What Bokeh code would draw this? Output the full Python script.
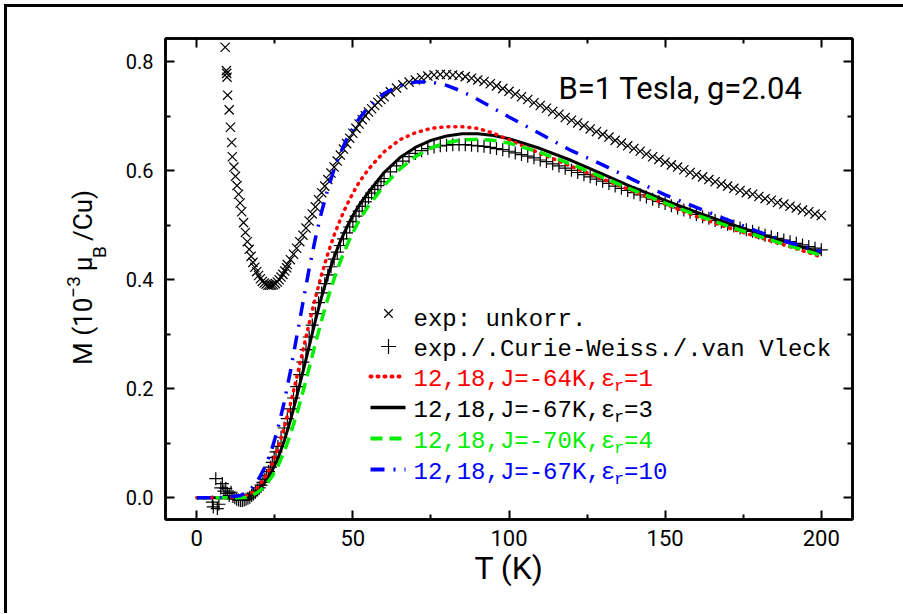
import math
from bokeh.plotting import figure
from bokeh.models import Range1d, LinearAxis, FixedTicker, Label, PrintfTickFormatter, Row
from bokeh.core.properties import value
from bokeh.embed import file_html
from bokeh.resources import INLINE

# ---------------- data ----------------
# experimental, uncorrected (x markers)
T_RAW = [9.1, 9.5, 9.6, 9.7, 9.9, 10.4, 10.8, 11.2, 11.4, 11.9, 12.4, 12.9, 13.4, 13.9, 14.4,
         15.0, 15.6, 16.2, 16.8, 17.4, 18.0, 18.6, 19.2, 19.8, 20.4, 21.0, 21.6, 22.2, 22.8, 23.4,
         24.0, 24.6, 25.2, 25.8, 26.4, 27.0, 27.6, 28.2, 28.8,
         29, 30, 31, 32, 33, 34, 35, 36, 37, 38, 39, 40, 41, 42, 43, 44, 45, 46, 47, 48, 49, 50,
         51, 52, 53, 54, 55, 56, 57, 58, 59, 60,
         62, 64, 66, 68, 70, 72, 74, 76, 78, 80, 82, 84, 86, 88, 90, 92, 94, 96, 98, 100,
         102, 104, 106, 108, 110, 112, 114, 116, 118, 120, 122, 124, 126, 128, 130, 132, 134, 136,
         138, 140, 142, 144, 146, 148, 150, 152, 154, 156, 158, 160, 162, 164, 166, 168, 170, 172,
         174, 176, 178, 180, 182, 184, 186, 188, 190, 192, 194, 196, 198, 200]
M_RAW = [0.827, 0.784, 0.779, 0.772, 0.739, 0.712, 0.680, 0.652, 0.626, 0.607, 0.590, 0.573, 0.557,
         0.541, 0.525, 0.505, 0.487, 0.470, 0.456, 0.443, 0.432, 0.423, 0.415, 0.408, 0.402, 0.397,
         0.394, 0.392, 0.390, 0.390, 0.390, 0.391, 0.393, 0.396, 0.400, 0.405, 0.410, 0.416, 0.422,
         0.428, 0.437, 0.447, 0.458, 0.470, 0.482, 0.495, 0.508, 0.521, 0.534, 0.547, 0.560, 0.572,
         0.584, 0.596, 0.607, 0.618, 0.629, 0.640, 0.650, 0.660, 0.669, 0.678, 0.686, 0.694, 0.701,
         0.708, 0.714, 0.720, 0.726, 0.731, 0.736,
         0.745, 0.752, 0.758, 0.763, 0.767, 0.771, 0.774, 0.776, 0.777, 0.777, 0.776, 0.775, 0.773,
         0.770, 0.767, 0.764, 0.760, 0.756, 0.751, 0.746, 0.741, 0.736, 0.731, 0.725, 0.720, 0.715,
         0.709, 0.704, 0.698, 0.693, 0.688, 0.683, 0.677, 0.672, 0.667, 0.662, 0.656, 0.651, 0.646,
         0.641, 0.636, 0.631, 0.626, 0.621, 0.616, 0.611, 0.607, 0.602, 0.597, 0.593, 0.589, 0.584,
         0.580, 0.576, 0.572, 0.568, 0.564, 0.560, 0.557, 0.553, 0.549, 0.546, 0.542, 0.539, 0.535,
         0.532, 0.528, 0.525, 0.521, 0.518]

# experimental, corrected for Curie-Weiss and van Vleck (+ markers)
T_COR = [5.0, 5.3, 6.1, 6.6, 7.1, 7.7, 8.2, 8.7, 9.3, 9.8, 10.4, 11.0, 11.6, 12.2, 12.8, 13.4, 14.0,
         14.6, 15.2, 15.8, 16.4, 17.0, 17.6, 18.2, 18.8, 19.4, 20.0, 20.6, 21.2, 21.8, 22.4, 23.0,
         23.6, 24.2, 24.8, 25.4, 26.0, 27, 28,
         29, 30, 31, 32, 33, 34, 35, 36, 37, 38, 39, 40, 41, 42, 43, 44, 45, 46, 47, 48, 49, 50,
         51, 52, 53, 54, 55, 56, 57, 58, 59, 60,
         62, 64, 66, 68, 70, 72, 74, 76, 78, 80, 82, 84, 86, 88, 90, 92, 94, 96, 98, 100,
         102, 104, 106, 108, 110, 112, 114, 116, 118, 120, 122, 124, 126, 128, 130, 132, 134, 136,
         138, 140, 142, 144, 146, 148, 150, 152, 154, 156, 158, 160, 162, 164, 166, 168, 170, 172,
         174, 176, 178, 180, 182, 184, 186, 188, 190, 192, 194, 196, 198, 200]
M_COR = [-0.008, -0.017, 0.035, -0.020, -0.012, 0.018, 0.026, 0.012, 0.017, 0.008, 0.004, 0.010,
         0.002, 0.000, -0.003, -0.004, -0.005, -0.005, -0.004, -0.003, -0.001, 0.001, 0.004, 0.007,
         0.010, 0.014, 0.018, 0.023, 0.028, 0.034, 0.041, 0.048, 0.056, 0.065, 0.074, 0.084, 0.094,
         0.111, 0.128,
         0.145, 0.163, 0.183, 0.204, 0.226, 0.249, 0.272, 0.295, 0.317, 0.338, 0.358, 0.376, 0.393,
         0.409, 0.424, 0.438, 0.451, 0.463, 0.475, 0.486, 0.497, 0.507, 0.517, 0.526, 0.535, 0.543,
         0.551, 0.559, 0.566, 0.573, 0.580, 0.586,
         0.598, 0.609, 0.618, 0.626, 0.632, 0.637, 0.641, 0.644, 0.646, 0.647, 0.648, 0.648, 0.648,
         0.647, 0.646, 0.645, 0.643, 0.641, 0.639, 0.636, 0.633, 0.630, 0.627, 0.624, 0.620, 0.617,
         0.613, 0.609, 0.605, 0.601, 0.597, 0.593, 0.589, 0.585, 0.581, 0.577, 0.572, 0.568, 0.564,
         0.560, 0.556, 0.552, 0.548, 0.544, 0.540, 0.536, 0.532, 0.528, 0.524, 0.520, 0.516, 0.513,
         0.509, 0.506, 0.502, 0.499, 0.495, 0.492, 0.489, 0.486, 0.482, 0.479, 0.476, 0.473, 0.470,
         0.467, 0.464, 0.461, 0.458, 0.455]

# model curves (12,18 cluster)
T_MOD = [0, 5, 10, 14, 16, 18, 20, 22, 24, 26, 28, 30, 32, 34, 36, 38, 40, 42, 44, 46, 48, 50, 52,
         55, 60, 65, 70, 75, 80, 85, 90, 95, 100, 110, 120, 130, 140, 150, 160, 170, 180, 190, 200]
M_J64_E1 = [0, 0, 0, 0.001, 0.004, 0.010, 0.022, 0.038, 0.060, 0.090, 0.128, 0.172, 0.220, 0.270,
            0.320, 0.367, 0.410, 0.448, 0.482, 0.511, 0.537, 0.559, 0.579, 0.603, 0.635, 0.657,
            0.670, 0.678, 0.681, 0.681, 0.678, 0.669, 0.657, 0.632, 0.608, 0.585, 0.562, 0.539,
            0.516, 0.496, 0.478, 0.461, 0.442]
M_J67_E3 = [0, 0, 0, 0, 0.002, 0.007, 0.016, 0.030, 0.048, 0.072, 0.104, 0.142, 0.185, 0.231,
            0.278, 0.325, 0.369, 0.408, 0.442, 0.471, 0.496, 0.518, 0.537, 0.561, 0.597, 0.624,
            0.643, 0.656, 0.664, 0.668, 0.668, 0.665, 0.659, 0.641, 0.619, 0.594, 0.569, 0.546,
            0.524, 0.504, 0.485, 0.467, 0.449]
M_J70_E4 = [0, 0, 0, 0, 0.001, 0.005, 0.012, 0.023, 0.038, 0.058, 0.084, 0.116, 0.153, 0.194,
            0.238, 0.283, 0.326, 0.366, 0.402, 0.434, 0.462, 0.487, 0.509, 0.536, 0.573, 0.603,
            0.626, 0.642, 0.652, 0.657, 0.658, 0.656, 0.651, 0.634, 0.612, 0.588, 0.564, 0.541,
            0.519, 0.499, 0.480, 0.462, 0.445]
M_J67_E10 = [0, 0, 0.001, 0.004, 0.010, 0.020, 0.036, 0.058, 0.088, 0.127, 0.175, 0.232, 0.295,
             0.358, 0.420, 0.476, 0.525, 0.567, 0.603, 0.633, 0.658, 0.678, 0.696, 0.717, 0.742,
             0.756, 0.763, 0.763, 0.757, 0.746, 0.731, 0.715, 0.699, 0.668, 0.637, 0.611, 0.583,
             0.556, 0.533, 0.510, 0.488, 0.468, 0.452]

X_TICKS = [0, 50, 100, 150, 200]
X_MINOR = [-25, 25, 75, 125, 175, 225]
Y_TICKS = [0.0, 0.2, 0.4, 0.6, 0.8]
Y_MINOR = [-0.1, 0.1, 0.3, 0.5, 0.7, 0.9]

TITLE = "B=1 Tesla, g=2.04"
X_LABEL = "T (K)"
Y_LABEL_PARTS = ["M (10", "−3", "μ", "B", "/Cu)"]
LEG_EXP = ["exp: unkorr.", "exp./.Curie-Weiss./.van Vleck"]
LEG_MODEL = [("12,18,J=-64K,ε", "r", "=1"), ("12,18,J=-67K,ε", "r", "=3"),
             ("12,18,J=-70K,ε", "r", "=4"), ("12,18,J=-67K,ε", "r", "=10")]

# ---------------- layout ----------------
X0, X1 = -10, 210
Y0, Y1 = -0.04, 0.843
ORG = 7                      # page offset of the canvases (margin 4 + border 3)
LW = 104                     # width of the strip holding the y label
H = 606
TOTAL_W = 896
FL, FT, FR, FB = 165, 38, 852, 519   # frame edges in page pixels
MAIN_W = TOTAL_W - LW
MB_L = FL - ORG - LW
MB_T = FT - ORG
MB_R = (ORG + TOTAL_W) - FR
MB_B = (ORG + H) - FB
FW = FR - FL
FH = FB - FT


def dx(px):
    return X0 + (px - FL) / FW * (X1 - X0)


def dy(py):
    return Y1 - (py - FT) / FH * (Y1 - Y0)


p = figure(width=MAIN_W, height=H, x_range=Range1d(X0, X1), y_range=Range1d(Y0, Y1),
           output_backend="svg", toolbar_location=None,
           x_axis_location=None, y_axis_location=None,
           min_border_left=MB_L, min_border_right=MB_R, min_border_top=MB_T,
           min_border_bottom=MB_B)
p.xgrid.visible = False
p.ygrid.visible = False
p.outline_line_color = "black"
p.outline_line_width = 2.5
p.outline_line_alpha = 1.0
p.background_fill_color = "white"
p.border_fill_color = "white"

ax_b = LinearAxis(ticker=FixedTicker(ticks=X_TICKS, minor_ticks=X_MINOR))
ax_t = LinearAxis(ticker=FixedTicker(ticks=X_TICKS, minor_ticks=X_MINOR))
ax_l = LinearAxis(ticker=FixedTicker(ticks=Y_TICKS, minor_ticks=Y_MINOR),
                  formatter=PrintfTickFormatter(format="%.1f"))
ax_r = LinearAxis(ticker=FixedTicker(ticks=Y_TICKS, minor_ticks=Y_MINOR))
p.add_layout(ax_b, "below")
p.add_layout(ax_l, "left")
p.add_layout(ax_t, "above")
p.add_layout(ax_r, "right")

for ax in [ax_b, ax_l, ax_t, ax_r]:
    ax.axis_line_color = "black"
    ax.axis_line_width = 2.5
    ax.major_tick_in = 9
    ax.major_tick_out = 0
    ax.minor_tick_in = 5
    ax.minor_tick_out = 0
    ax.major_tick_line_width = 2
    ax.minor_tick_line_width = 2
    ax.major_tick_line_color = "black"
    ax.minor_tick_line_color = "black"
    ax.major_label_text_font = "Roboto"
    ax.major_label_text_color = "black"

for ax in [ax_t, ax_r]:
    ax.major_label_text_color = None
    ax.major_label_text_font_size = "6px"
    ax.major_label_standoff = 2

ax_b.major_label_text_font_size = "22px"
ax_b.major_label_standoff = 10
ax_l.major_label_text_font_size = "20px"
ax_l.major_label_standoff = 12
ax_b.axis_label = X_LABEL
ax_b.axis_label_text_font = "Roboto"
ax_b.axis_label_text_font_size = "32px"
ax_b.axis_label_text_font_style = "normal"
ax_b.axis_label_text_color = "black"
ax_b.axis_label_standoff = 0

# ---------------- data marks ----------------
p.scatter(T_RAW, M_RAW, marker="x", size=13, line_color="black", line_width=1.2)
p.scatter(T_COR, M_COR, marker="cross", size=13, line_color="black", line_width=1.2)

STYLES = [
    (M_J64_E1, "#ff0000", "1 6", 3.5, "round"),
    (M_J67_E3, "#000000", "solid", 3.0, "butt"),
    (M_J70_E4, "#00ee00", "12 7", 3.5, "butt"),
    (M_J67_E10, "#0000ff", "14 9 2 9", 3.5, "butt"),
]
for i in [1, 0, 2, 3]:
    m, c, dash, lw, cap = STYLES[i]
    p.line(T_MOD, m, line_color=c, line_dash=dash, line_width=lw, line_cap=cap)

# ---------------- legend ----------------
p.scatter([dx(388)], [dy(313)], marker="x", size=12, line_color="black", line_width=1.2)
p.scatter([dx(388)], [dy(346)], marker="cross", size=15, line_color="black", line_width=1.2)
MONO = "Liberation Mono"
FS = 24
pitch = 0.6 * FS
TX = dx(413)
for k, txt in enumerate(LEG_EXP):
    p.add_layout(Label(x=TX, y=dy([319, 349][k]), text=txt, text_font=MONO,
                       text_font_size=f"{FS}px", text_color="black",
                       text_align="left", text_baseline="middle"))

line_y = [376, 407, 438, 469]
for k, (a, sub, b) in enumerate(LEG_MODEL):
    m, c, dash, lw, cap = STYLES[k]
    yy = line_y[k]
    p.line([dx(370), dx(405)], [dy(yy), dy(yy)], line_color=c, line_dash=dash,
           line_width=lw + 0.5, line_cap=cap)
    ty = dy(yy + 3)
    p.add_layout(Label(x=TX, y=ty, text=a, text_font=MONO, text_font_size=f"{FS}px",
                       text_color=c, text_align="left", text_baseline="middle"))
    p.add_layout(Label(x=TX, y=ty, x_offset=14 * pitch - 1, y_offset=-7, text=sub,
                       text_font=MONO, text_font_size="17px", text_color=c,
                       text_align="left", text_baseline="middle"))
    p.add_layout(Label(x=TX, y=ty, x_offset=14 * pitch + 9, text=b, text_font=MONO,
                       text_font_size=f"{FS}px", text_color=c, text_align="left",
                       text_baseline="middle"))

# ---------------- title ----------------
p.add_layout(Label(x=dx(558), y=dy(88), text=TITLE, text_font="Roboto",
                   text_font_size="31px", text_color="black", text_align="left",
                   text_baseline="alphabetic"))

# ---------------- y-axis label strip (super/subscript) ----------------
lab = figure(width=LW, height=H, x_range=Range1d(0, LW), y_range=Range1d(0, H),
             output_backend="svg", toolbar_location=None,
             x_axis_location=None, y_axis_location=None, min_border=0)
lab.xgrid.visible = False
lab.ygrid.visible = False
lab.outline_line_color = None
lab.background_fill_color = "white"
lab.border_fill_color = "white"

# centre of each piece in page pixels (x across, y along) and font size
YL_POS = [(82, 376, "26px"), (73, 320, "19px"), (82, 291, "26px"), (99, 276, "19px"),
          (82, 230, "26px")]
for txt, (cx, cy, fs) in zip(Y_LABEL_PARTS, YL_POS):
    lab.text(x=[cx - ORG], y=[H - (cy - ORG)], text=[txt], angle=math.pi / 2,
             text_font=value("Roboto"), text_font_size=value(fs), text_color="black",
             text_align="center", text_baseline="middle")

layout = Row(children=[lab, p], spacing=0,
             styles={"margin-left": "4px", "margin-top": "4px",
                     "border-left": "3px solid black", "border-top": "3px solid black"})

open("out.html", "w").write(file_html(layout, INLINE))
